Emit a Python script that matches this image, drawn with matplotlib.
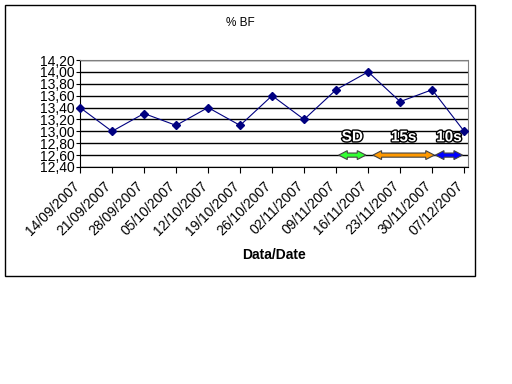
import matplotlib
matplotlib.use("Agg")
import matplotlib.pyplot as plt
import matplotlib.patheffects as pe
import matplotlib.transforms as mtransforms
from matplotlib.patches import Polygon, Rectangle
from matplotlib.ticker import FuncFormatter, MultipleLocator

plt.rcParams["font.family"] = ["Liberation Sans", "DejaVu Sans"]

DATES = ["14/09/2007", "21/09/2007", "28/09/2007", "05/10/2007",
         "12/10/2007", "19/10/2007", "26/10/2007", "02/11/2007",
         "09/11/2007", "16/11/2007", "23/11/2007", "30/11/2007",
         "07/12/2007"]
BF = [13.4, 13.0, 13.3, 13.1, 13.4, 13.1, 13.6, 13.2, 13.7, 14.0, 13.5,
      13.7, 13.0]

# phase markers: label, start, end (in date-index units), colour
PHASE_LABELS = ["SD", "15s", "10s"]
PHASE_START = [8.08, 9.15, 11.1]
PHASE_END = [8.93, 11.07, 11.95]
PHASE_COLORS = ["#33ff33", "#ff9900", "#0000ff"]
PHASE_Y = 12.6
PHASE_TEXT_Y = 12.9

fig = plt.figure(figsize=(5.12, 3.84), dpi=100)
fig.patches.append(Rectangle((5 / 512, 1 - 276 / 384), 470 / 512,
                             271 / 384, transform=fig.transFigure,
                             fill=False, ec="black", lw=1.0))
ax = fig.add_axes([80 / 512, 1 - 167 / 384, 388 / 512, 107 / 384])

xs = list(range(len(DATES)))
ax.plot(xs, BF, color="#000080", lw=0.8, marker="D", ms=3.8, zorder=4,
        clip_on=False)

ax.set_xlim(0, 12.12)
ax.set_ylim(12.4, 14.2)
ax.yaxis.set_major_locator(MultipleLocator(0.2))
ax.yaxis.set_major_formatter(
    FuncFormatter(lambda v, p: f"{v:.2f}".replace(".", ",")))
ax.grid(axis="y", color="black", lw=1.0)
ax.set_axisbelow(True)
ax.set_xticks(xs)
ax.set_xticklabels([])
# rotated date labels, anchored a little left/below each tick (Excel style)
lab_tr = ax.get_xaxis_transform() + mtransforms.ScaledTranslation(
    -8 / 100, -12 / 100, fig.dpi_scale_trans)
for x, d in zip(xs, DATES):
    ax.text(x, 0, d, transform=lab_tr, rotation=45, ha="right", va="top",
            rotation_mode="anchor", fontsize=10)
ax.tick_params(axis="y", labelsize=10, length=3, pad=1)
ax.tick_params(axis="x", length=4, pad=2)
for s in ("top", "right"):
    ax.spines[s].set_color("0.5")
    ax.spines[s].set_linestyle((0, (1, 1)))
    ax.spines[s].set_linewidth(0.8)

ax.set_xlabel("Data/Date", fontsize=10, fontweight="bold")
ax.xaxis.set_label_coords(0.5, -0.76)
fig.text(240 / 512, 1 - 23 / 384, "% BF", ha="center", va="center",
         fontsize=8.5)

hl, hw, bw = 0.27, 0.075, 0.035
for lab, x0, x1, c in zip(PHASE_LABELS, PHASE_START, PHASE_END,
                          PHASE_COLORS):
    y = PHASE_Y
    pts = [(x0, y), (x0 + hl, y + hw), (x0 + hl, y + bw), (x1 - hl, y + bw),
           (x1 - hl, y + hw), (x1, y), (x1 - hl, y - hw), (x1 - hl, y - bw),
           (x0 + hl, y - bw), (x0 + hl, y - hw)]
    ax.add_patch(Polygon(pts, closed=True, fc=c, ec="#444444", lw=0.8,
                         zorder=5))
    ax.text((x0 + x1) / 2, PHASE_TEXT_Y, lab, ha="center", va="center",
            fontsize=11, fontweight="bold", color="white", zorder=6,
            path_effects=[pe.withStroke(linewidth=2, foreground="black")])

fig.savefig("out.png", dpi=100)
